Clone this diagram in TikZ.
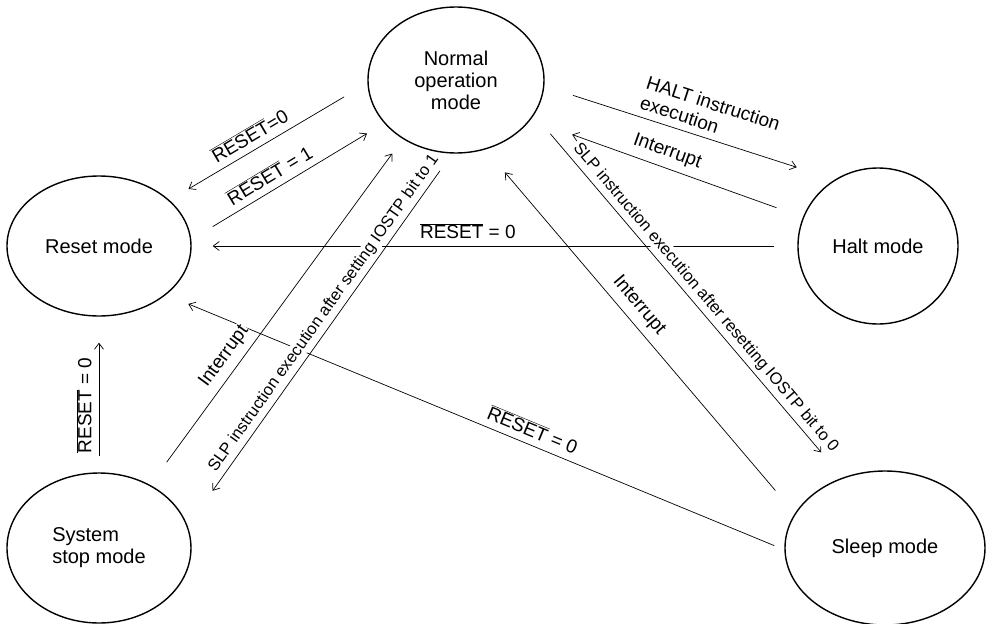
\documentclass[tikz,border=0pt]{standalone}
\usepackage{fontspec}
\setmainfont{Liberation Sans}
\usetikzlibrary{positioning,shapes.geometric,arrows.meta}
\newcommand{\nrst}{$\overline{\mbox{RESET}}$}
\tikzset{
  mode/.style={
    ellipse, draw, line width=1.4pt, inner sep=0pt,
    font=\fontsize{20}{22}\selectfont
  },
  trans/.style={
    ->, line width=0.7pt
  },
  lbl/.style={
    sloped, above=6pt, fill=white, inner sep=1pt,
    font=\fontsize{19}{21}\selectfont
  },
  slplbl/.style={
    lbl, above=3pt, font=\fontsize{16.5}{19}\selectfont
  },
  >={Straight Barb[length=6pt,width=9pt]}
}

\begin{document}
\begin{tikzpicture}
  \useasboundingbox (-456pt,80pt) rectangle (535pt,-544pt);
  \node [mode, minimum width=176pt, minimum height=146pt, align=center] (Normal) {Normal\\operation\\mode};
  \node [mode, on grid, below left=166pt and 357pt of Normal, minimum width=184pt, minimum height=140pt] (Reset) {Reset mode};
  \node [mode, on grid, right=779pt of Reset, minimum width=160pt, minimum height=156pt] (Halt) {Halt mode};
  \node [mode, on grid, below=302pt of Reset, minimum width=184pt, minimum height=150pt, align=left] (SysStop) {System\\stop mode};
  \node [mode, on grid, right=786pt of SysStop, minimum width=200pt, minimum height=154pt] (Sleep) {Sleep mode};

  % long resets first, so the SLP labels sit on top of them
  \draw [trans, shorten <=23pt, shorten >=21pt] (Halt.west) -- node [lbl, pos=.544] {\nrst{} = 0} (Reset.east);
  \draw [trans, shorten <=11pt, shorten >=24pt] (Sleep.181) -- node [lbl, pos=.416] {\nrst{} = 0} (Reset.324);

  \draw [trans, shorten <=27pt, shorten >=22pt] (Normal.182) -- node [lbl, pos=.557] {\nrst=0} (Reset.33);
  \draw [trans, shorten <=25pt, shorten >=20pt] (Reset.4) -- node [lbl, pos=.445] {\nrst{} = 1} (Normal.211);
  \draw [trans, shorten <=16pt, shorten >=26pt] (SysStop.north) -- node [lbl, pos=.43] {\nrst{} = 0} (Reset.south);

  \draw [trans, shorten <=28pt, shorten >=18pt] (SysStop.51) -- node [lbl, pos=.344] {Interrupt} (Normal.228);
  \draw [trans, shorten <=21pt, shorten >=43pt] (Normal.267) -- node [slplbl, pos=.448] {SLP instruction execution after setting IOSTP bit to 1} (SysStop.14);

  \draw [trans, shorten <=30pt, shorten >=40pt] (Normal.356) -- node [lbl, pos=.545, align=left] {HALT instruction\\execution} (Halt.123);
  \draw [trans, shorten <=28pt, shorten >=44pt] (Halt.159) -- node [lbl, pos=.518] {Interrupt} (Normal.332);

  \draw [trans, shorten <=25pt, shorten >=33pt] (Normal.336) -- node [slplbl, pos=.526] {SLP instruction execution after resetting IOSTP bit to 0} (Sleep.121);
  \draw [trans, shorten <=30pt, shorten >=30pt] (Sleep.159) -- node [lbl, pos=.543] {Interrupt} (Normal.293);
\end{tikzpicture}
\end{document}
